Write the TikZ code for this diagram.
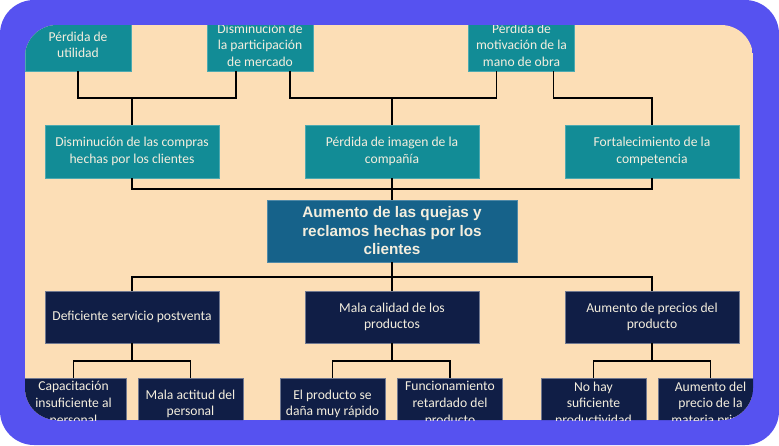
\documentclass[tikz,border=0pt]{standalone}
\usepackage{fontspec}
\setmainfont{Carlito}
\newfontfamily\headfont{Liberation Sans}
\definecolor{framecol}{RGB}{86,82,240}
\definecolor{peach}{RGB}{252,222,182}
\definecolor{tealbox}{RGB}{18,140,150}
\definecolor{mainbox}{RGB}{22,98,138}
\definecolor{navybox}{RGB}{16,30,70}
\definecolor{boxtext}{RGB}{244,238,222}
\tikzset{
  box/.style={align=center, inner sep=0pt, text=boxtext, line width=0.6pt,
    font=\fontsize{13.6}{16.6}\selectfont},
  effect/.style={box, fill=tealbox, draw=tealbox!75!white, minimum height=52pt},
  cause/.style={box, fill=navybox, draw=navybox!60!white, minimum height=52pt},
  problem/.style={box, fill=mainbox, draw=mainbox!75!white, minimum width=250pt,
    minimum height=62pt, font=\headfont\bfseries\fontsize{15.3}{18.5}\selectfont},
  link/.style={draw=black, line width=1.2pt}
}
\begin{document}
\begin{tikzpicture}[x=1pt,y=-1pt]
	\useasboundingbox (0,0) rectangle (779,445);
	\fill[white] (0,0) rectangle (779,445);
	\fill[framecol, rounded corners=34pt] (0,0) rectangle (779,445);
	\begin{scope}
	\clip[rounded corners=32pt] (25,25) rectangle (753,420);
	\fill[peach] (25,25) rectangle (753,420);
	\node[effect, minimum width=106pt] (t1) at (78,45) {Pérdida de\\utilidad};
	\node[effect, minimum width=106pt] (t2) at (260,45) {Disminución de\\la participación\\de mercado};
	\node[effect, minimum width=106pt] (t3) at (521.5,45) {Pérdida de\\motivación de la\\mano de obra};
	\node[effect, minimum width=174pt, minimum height=53pt] (m1) at (132,151.5) {Disminución de las compras\\hechas por los clientes};
	\node[effect, minimum width=174pt, minimum height=53pt] (m2) at (392,151.5) {Pérdida de imagen de la\\compañía};
	\node[effect, minimum width=174pt, minimum height=53pt] (m3) at (652,151.5) {Fortalecimiento de la\\competencia};
	\node[problem] (main) at (392,231) {Aumento de las quejas y\\reclamos hechas por los\\clientes};
	\node[cause, minimum width=174pt] (b1) at (132,317) {Deficiente servicio postventa};
	\node[cause, minimum width=174pt] (b2) at (392,317) {Mala calidad de los\\productos};
	\node[cause, minimum width=174pt] (b3) at (652,317) {Aumento de precios del\\producto};
	\node[cause, minimum width=105pt] (l1) at (73.5,404) {Capacitación\\insuficiente al\\personal};
	\node[cause, minimum width=105pt] (l2) at (190.5,404) {Mala actitud del\\personal};
	\node[cause, minimum width=105pt] (l3) at (332.5,404) {El producto se\\daña muy rápido};
	\node[cause, minimum width=105pt] (l4) at (450,404) {Funcionamiento\\retardado del\\producto};
	\node[cause, minimum width=105pt] (l5) at (593.5,404) {No hay\\suficiente\\productividad};
	\node[cause, minimum width=105pt] (l6) at (710.5,404) {Aumento del\\precio de la\\materia prima};
	\coordinate (j1) at (132,98);
	\coordinate (j2) at (392,98);
	\coordinate (j3) at (652,98);
	\coordinate (j4) at (392,189);
	\coordinate (j5) at (392,277);
	\coordinate (j6) at (132,361);
	\coordinate (j7) at (392,361);
	\coordinate (j8) at (652,361);
	\draw[link] (t1.south) |- (j1) -- (m1.north);
	\draw[link] ([xshift=-24pt]t2.south) |- (j1);
	\draw[link] ([xshift=30pt]t2.south) |- (j2) -- (m2.north);
	\draw[link] ([xshift=-25pt]t3.south) |- (j2);
	\draw[link] ([xshift=32pt]t3.south) |- (j3) -- (m3.north);
	\draw[link] (m1.south) |- (j4);
	\draw[link] (m3.south) |- (j4);
	\draw[link] (m2.south) -- (main.north);
	\draw[link] (main.south) -- (b2.north);
	\draw[link] (b1.north) |- (j5);
	\draw[link] (b3.north) |- (j5);
	\draw[link] (b1.south) -- (j6);
	\draw[link] (l1.north) |- (j6);
	\draw[link] (l2.north) |- (j6);
	\draw[link] (b2.south) -- (j7);
	\draw[link] (l3.north) |- (j7);
	\draw[link] (l4.north) |- (j7);
	\draw[link] (b3.south) -- (j8);
	\draw[link] (l5.north) |- (j8);
	\draw[link] (l6.north) |- (j8);
	\end{scope}
\end{tikzpicture}
\end{document}
